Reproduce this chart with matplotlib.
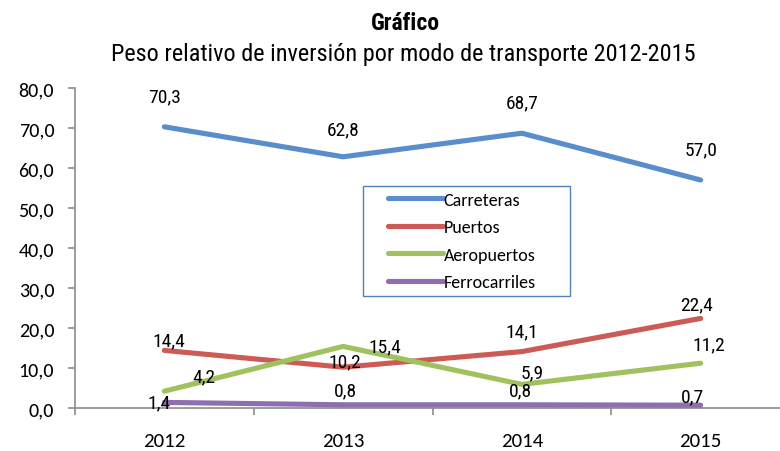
import matplotlib
matplotlib.use("Agg")
import matplotlib.pyplot as plt
from matplotlib.legend_handler import HandlerLine2D

years = ["2012", "2013", "2014", "2015"]
series_names = ["Carreteras", "Puertos", "Aeropuertos", "Ferrocarriles"]
carreteras = [70.3, 62.8, 68.7, 57.0]
puertos = [14.4, 10.2, 14.1, 22.4]
aeropuertos = [4.2, 15.4, 5.9, 11.2]
ferrocarriles = [1.4, 0.8, 0.8, 0.7]
y_ticks = [0, 10, 20, 30, 40, 50, 60, 70, 80]

colors = ["#5A8DCB", "#CD5B55", "#A0C25E", "#8B6FAE"]
narrow = ["Roboto Condensed", "Liberation Sans"]
body = ["Carlito", "Lato", "DejaVu Sans"]


def fmt(v):
    return f"{v:.1f}".replace(".", ",")


fig = plt.figure(figsize=(7.8, 4.52), dpi=100)
W, H = 780, 452
left, right, bottom, top = 75, 790, 409, 89
ax = fig.add_axes([left / W, 1 - bottom / H, (right - left) / W, (bottom - top) / H])

x = list(range(len(years)))
all_series = [carreteras, puertos, aeropuertos, ferrocarriles]
lines = []
for vals, c, name in zip(all_series, colors, series_names):
    ln, = ax.plot(x, vals, color=c, lw=3.7, solid_capstyle="round",
                  solid_joinstyle="round", label=name, zorder=3)
    lines.append(ln)

# data label offsets in pixels (dx, dy) for each series and year
offsets = [
    [(0, 30), (0, 27), (0, 31), (0, 31)],
    [(4, 10), (2, 6), (0, 20), (-4, 14)],
    [(40, 15), (42, 0), (10, 12), (8, 19)],
    [(-5, 0), (2, 14), (-1, 14), (-8, 9)],
]
for vals, offs in zip(all_series, offsets):
    for xi, v, (dx, dy) in zip(x, vals, offs):
        ax.annotate(fmt(v), (xi, v), xytext=(dx, dy), textcoords="offset pixels",
                    ha="center", va="center", fontsize=14, family=narrow,
                    color="black", zorder=4)

ax.set_xlim(-0.5, 3.5)
ax.set_ylim(0, 80)
ax.set_yticks(y_ticks)
ax.set_yticklabels([fmt(v) for v in y_ticks], fontsize=14.5, family=body)
ax.set_xticks([-0.5, 0.5, 1.5, 2.5, 3.5])
ax.set_xticklabels([])
ax.set_xticks(x, minor=True)
ax.set_xticklabels(years, minor=True, fontsize=15, family=body)
ax.tick_params(axis="x", which="minor", length=0, pad=17)
ax.tick_params(axis="x", which="major", length=5, width=1.2, color="#8C8C8C", direction="out")
ax.tick_params(axis="y", length=5, width=1.2, color="#8C8C8C", direction="out", pad=10)

for s in ["top", "right"]:
    ax.spines[s].set_visible(False)
for s in ["left", "bottom"]:
    ax.spines[s].set_color("#8C8C8C")
    ax.spines[s].set_linewidth(1.2)

fs_leg = 13
leg = fig.legend(handles=lines, loc="upper left",
                 bbox_to_anchor=(363 / W, 1 - 298 / H, 207 / W, 111 / H),
                 bbox_transform=fig.transFigure, mode="expand", borderaxespad=0,
                 frameon=True, fancybox=False, framealpha=1, edgecolor="#4F81BD",
                 prop={"family": body, "size": fs_leg}, handlelength=4.1,
                 handletextpad=0.05, labelspacing=0.63, borderpad=0.32,
                 handler_map={ln: HandlerLine2D(xpad=1.05) for ln in lines})
leg.get_frame().set_linewidth(1.0)

fig.text(405 / W, 1 - 23 / H, "Gráfico", ha="center", va="center",
         fontsize=17, fontweight="bold", family=narrow)
fig.text(403 / W, 1 - 55 / H, "Peso relativo de inversión por modo de transporte 2012-2015",
         ha="center", va="center", fontsize=17.5, family=narrow)

fig.savefig("out.png", dpi=100)
